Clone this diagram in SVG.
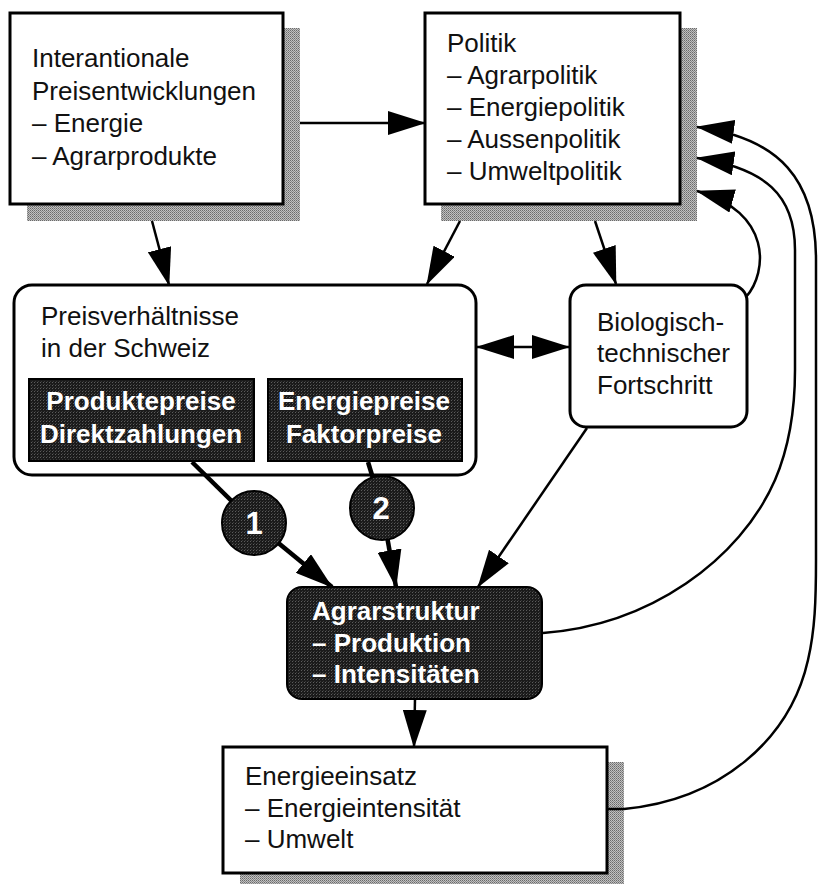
<svg xmlns="http://www.w3.org/2000/svg" width="818" height="884" viewBox="0 0 818 884">
<defs>
<pattern id="shade" width="2" height="2" patternUnits="userSpaceOnUse"><rect width="2" height="2" fill="#c0c0c0"/><rect width="1" height="1" fill="#6a6a6a"/><rect x="1" y="1" width="1" height="1" fill="#888"/></pattern>
<pattern id="dark" width="3" height="3" patternUnits="userSpaceOnUse"><rect width="3" height="3" fill="#1b1b1b"/><rect x="1" y="1" width="1" height="1" fill="#5c5c5c"/><rect x="2" y="0" width="1" height="1" fill="#3a3a3a"/></pattern>
<marker id="ah" viewBox="0 0 38 24" refX="37" refY="12" markerWidth="38" markerHeight="24" markerUnits="userSpaceOnUse" orient="auto"><path d="M0,0 L38,12 L0,24 Z" fill="#000"/></marker>
<marker id="ahs" viewBox="0 0 38 24" refX="37" refY="12" markerWidth="38" markerHeight="24" markerUnits="userSpaceOnUse" orient="auto-start-reverse"><path d="M0,0 L38,12 L0,24 Z" fill="#000"/></marker>
<style>
.box{fill:#fff;stroke:#000;stroke-width:3}
.shadow{fill:url(#shade)}
.dbox{fill:url(#dark);stroke:#000;stroke-width:2}
.t{font-family:"Liberation Sans",Arial,Helvetica,sans-serif;font-size:26px;fill:#111}
.tb{font-family:"Liberation Sans",Arial,Helvetica,sans-serif;font-size:26px;font-weight:bold;fill:#fff}
.num{font-size:31px}
.c{fill:none;stroke:#000;stroke-width:2.5}
.thick{stroke-width:4.5}
.badge{fill:url(#dark);stroke:#000;stroke-width:2}
</style>
</defs>

<g id="internationale-preise">
<rect class="shadow" x="27" y="28" width="273" height="193"/>
<rect class="box" x="10" y="13" width="273" height="191"/>
<text class="t" x="32" y="67">Interantionale</text>
<text class="t" x="32" y="100">Preisentwicklungen</text>
<text class="t" x="32" y="132">– Energie</text>
<text class="t" x="32" y="165">– Agrarprodukte</text>
</g>

<g id="politik">
<rect class="shadow" x="441" y="28" width="256" height="193"/>
<rect class="box" x="425" y="13" width="255" height="191"/>
<text class="t" x="447" y="52">Politik</text>
<text class="t" x="447" y="84">– Agrarpolitik</text>
<text class="t" x="447" y="116">– Energiepolitik</text>
<text class="t" x="447" y="148">– Aussenpolitik</text>
<text class="t" x="447" y="180">– Umweltpolitik</text>
</g>

<g id="preisverhaeltnisse">
<rect class="box" x="14" y="285" width="462" height="190" rx="18"/>
<text class="t" x="41" y="325">Preisverhältnisse</text>
<text class="t" x="41" y="357">in der Schweiz</text>
<g id="produktepreise">
<rect class="dbox" x="29" y="379" width="225" height="82"/>
<text class="tb" x="141" y="410" text-anchor="middle">Produktepreise</text>
<text class="tb" x="141" y="443" text-anchor="middle">Direktzahlungen</text>
</g>
<g id="energiepreise">
<rect class="dbox" x="268" y="379" width="194" height="82"/>
<text class="tb" x="364" y="410" text-anchor="middle">Energiepreise</text>
<text class="tb" x="364" y="443" text-anchor="middle">Faktorpreise</text>
</g>
</g>

<g id="fortschritt">
<rect class="box" x="570" y="285" width="177" height="142" rx="16"/>
<text class="t" x="597" y="331">Biologisch-</text>
<text class="t" x="597" y="362">technischer</text>
<text class="t" x="597" y="394">Fortschritt</text>
</g>

<g id="agrarstruktur">
<rect class="dbox" x="287" y="587" width="255" height="112" rx="15"/>
<text class="tb" x="312" y="620">Agrarstruktur</text>
<text class="tb" x="312" y="652">– Produktion</text>
<text class="tb" x="312" y="683">– Intensitäten</text>
</g>

<g id="energieeinsatz">
<rect class="shadow" x="240" y="762" width="384" height="130"/>
<rect class="box" x="223" y="747" width="384" height="126"/>
<text class="t" x="245" y="785">Energieeinsatz</text>
<text class="t" x="245" y="817">– Energieintensität</text>
<text class="t" x="245" y="848">– Umwelt</text>
</g>

<g id="connectors">
<path class="c" d="M300,123 L425,123" marker-end="url(#ah)"/>
<path class="c" d="M152,221 L169,285" marker-end="url(#ah)"/>
<path class="c" d="M460,221 L427,284" marker-end="url(#ah)"/>
<path class="c" d="M595,221 L616,284" marker-end="url(#ah)"/>
<path class="c" d="M477,347 L569,347" marker-start="url(#ahs)" marker-end="url(#ahs)"/>
<path class="c" d="M587,428 L478,587" marker-end="url(#ah)"/>
<path class="c thick" d="M192,462 L254,523"/>
<path class="c thick" d="M254,523 L332,587" marker-end="url(#ah)"/>
<path class="c thick" d="M368,462 L382,508"/>
<path class="c thick" d="M382,508 L396,587" marker-end="url(#ah)"/>
<path class="c" d="M415,699 L414,747" marker-end="url(#ah)"/>
<path class="c" d="M746,297 C768,272 772,212 697,191" marker-end="url(#ah)"/>
<path class="c" d="M543,633 C650,625 740,560 775,480 C790,445 795,410 795,370 L795,250 C795,195 765,168 697,158" marker-end="url(#ah)"/>
<path class="c" d="M607,809 L624,809 C720,800 790,740 808,660 C815,630 816,600 816,560 L816,260 C816,180 780,138 697,127" marker-end="url(#ah)"/>
</g>

<g id="badge1">
<circle class="badge" cx="254" cy="523" r="32"/>
<text class="tb num" x="254" y="534" text-anchor="middle">1</text>
</g>
<g id="badge2">
<circle class="badge" cx="382" cy="508" r="32"/>
<text class="tb num" x="381" y="519" text-anchor="middle">2</text>
</g>
</svg>
